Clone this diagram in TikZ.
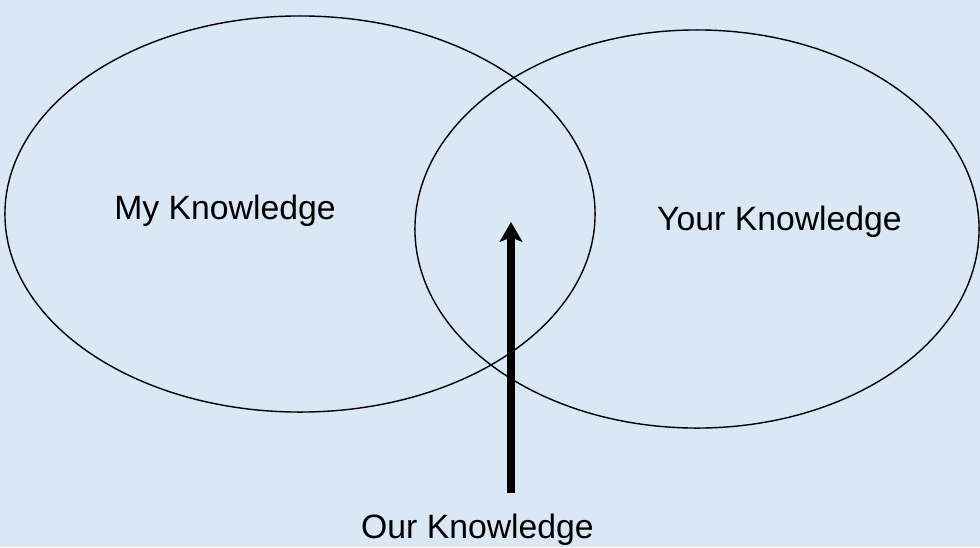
\documentclass[tikz,border=0pt]{standalone}
\usepackage{fontspec}
\setmainfont{Liberation Sans}
\usepackage{tikz}
\usetikzlibrary{arrows.meta,shapes.geometric}
\definecolor{paperblue}{RGB}{218,232,246}
\tikzset{
  kn set/.style={ellipse,draw,line width=1pt,inner sep=0pt},
  kn label/.style={anchor=base,inner sep=0pt,font=\fontsize{24}{28}\selectfont},
  kn arrow/.style={-{Stealth[length=14pt,width=16pt,inset=3pt]},line width=5pt}
}

\begin{document}
\begin{tikzpicture}[x=0.025cm,y=-0.025cm]
  \fill[paperblue] (0,0) rectangle (980,547);
  \useasboundingbox (0,0) rectangle (980,547);
  \node[kn set,minimum width=14.75cm,minimum height=9.9cm] (mine) at (300,214) {};
  \node[kn set,minimum width=14.1cm,minimum height=9.95cm] (yours) at (697,229) {};
  \node[kn label] (mylab) at (225,219) {My Knowledge};
  \node[kn label] (yourlab) at (779.5,230) {Your Knowledge};
  \node[kn label] (ourlab) at (477.5,538) {Our Knowledge};
  \coordinate (ourTail) at (511,493);
  \coordinate (ourTip) at (511,222);
  \draw[kn arrow] (ourTail) -- (ourTip);
\end{tikzpicture}
\end{document}
